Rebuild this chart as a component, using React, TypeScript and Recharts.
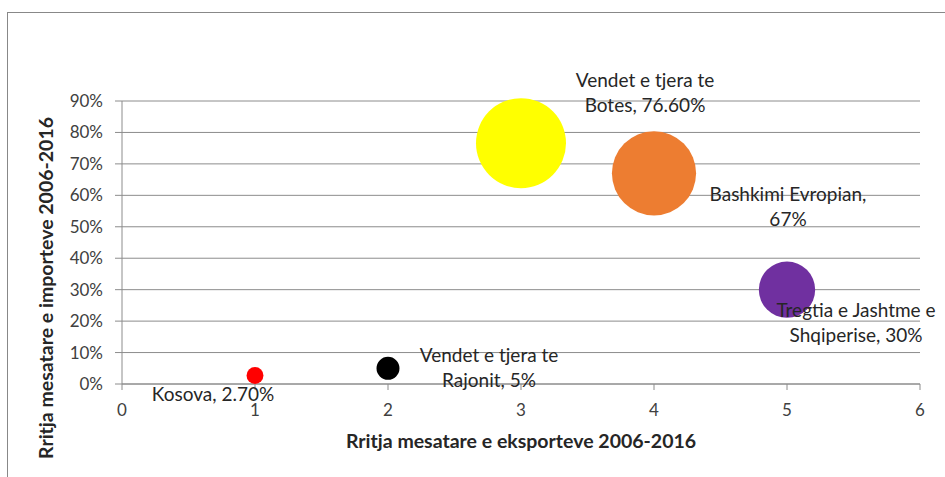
import React from "react";
import { Cell, CartesianGrid, Label, Scatter, ScatterChart, XAxis, YAxis, ZAxis } from "recharts";

const names = [
  "Kosova",
  "Vendet e tjera te Rajonit",
  "Vendet e tjera te Botes",
  "Bashkimi Evropian",
  "Tregtia e Jashtme e Shqiperise",
];
const exportRank = [1, 2, 3, 4, 5];
const importGrowth = [2.7, 5, 76.6, 67, 30];
const bubbleSize = [2.7, 5, 76.6, 67, 30];
const labelLines = [
  ["Kosova, 2.70%"],
  ["Vendet e tjera te", "Rajonit, 5%"],
  ["Vendet e tjera te", "Botes, 76.60%"],
  ["Bashkimi Evropian,", "67%"],
  ["Tregtia e Jashtme e", "Shqiperise, 30%"],
];
const colors = ["#FF0000", "#000000", "#FFFF00", "#ED7D31", "#7030A0"];
const xTicks = [0, 1, 2, 3, 4, 5, 6];
const yTicks = [0, 10, 20, 30, 40, 50, 60, 70, 80, 90];

// label placement relative to the bubble centre (dx, dy of first baseline)
const labelOffsets = [
  [-42, 25],
  [101, -6],
  [124, -56],
  [134, 28],
  [69, 27],
];

const FONT = "Lato, Calibri, 'Open Sans', sans-serif";
const GRID = "#8c8c8c";

const data = names.map((name, i) => ({
  name,
  x: exportRank[i],
  y: importGrowth[i],
  z: bubbleSize[i],
  idx: i,
}));

function BubbleLabel(props: any) {
  const { cx, cy, payload } = props;
  const i = payload.idx;
  const [dx, dy] = labelOffsets[i];
  return (
    <text
      x={cx + dx}
      y={cy + dy}
      textAnchor="middle"
      fontFamily={FONT}
      fontSize={19}
      fill="#262626"
    >
      {labelLines[i].map((line, k) => (
        <tspan key={k} x={cx + dx} dy={k === 0 ? 0 : 25}>
          {line}
        </tspan>
      ))}
    </text>
  );
}

export default function App() {
  return (
    <div style={{ position: "absolute", left: 0, top: 0, width: 945, height: 477, background: "#fff" }}>
      <div
        style={{
          position: "absolute",
          left: 7,
          top: 12,
          width: 945,
          height: 470,
          borderTop: "1px solid #888",
          borderLeft: "1px solid #888",
        }}
      />
      <div style={{ position: "absolute", left: 0, top: 0 }}>
        <ScatterChart width={945} height={477} margin={{ top: 101, right: 25, bottom: 0, left: 0 }}>
          <CartesianGrid horizontal vertical={false} stroke={GRID} />
          <XAxis
            type="number"
            dataKey="x"
            domain={[0, 6]}
            ticks={xTicks}
            interval={0}
            height={93}
            stroke={GRID}
            tickSize={6}
            tickMargin={14}
            tick={{ fontSize: 17, fill: "#404040", fontFamily: FONT }}
          >
            <Label
              content={(p: any) => {
                const vb = p.viewBox;
                return (
                  <text
                    x={vb.x + vb.width / 2}
                    y={448}
                    textAnchor="middle"
                    fontFamily={FONT}
                    fontWeight="bold"
                    fontSize={19.5}
                    fill="#262626"
                  >
                    Rritja mesatare e eksporteve 2006-2016
                  </text>
                );
              }}
            />
          </XAxis>
          <YAxis
            type="number"
            dataKey="y"
            domain={[0, 90]}
            ticks={yTicks}
            interval={0}
            width={122}
            stroke={GRID}
            tickSize={7}
            tickMargin={12}
            tickFormatter={(v: number) => `${v}%`}
            tick={{ fontSize: 17, fill: "#404040", fontFamily: FONT }}
          >
            <Label
              content={() => (
                <text
                  x={53}
                  y={288}
                  textAnchor="middle"
                  transform="rotate(-90 53 288)"
                  fontFamily={FONT}
                  fontWeight="bold"
                  fontSize={19.5}
                  fill="#262626"
                >
                  Rritja mesatare e importeve 2006-2016
                </text>
              )}
            />
          </YAxis>
          <ZAxis type="number" dataKey="z" domain={[0, 76.6]} range={[0, Math.PI * 45 * 45]} />
          <Scatter data={data} isAnimationActive={false}>
            {data.map((d, i) => (
              <Cell key={d.name} fill={colors[i]} />
            ))}
          </Scatter>
          <Scatter data={data} isAnimationActive={false} shape={BubbleLabel} />
        </ScatterChart>
      </div>
    </div>
  );
}
